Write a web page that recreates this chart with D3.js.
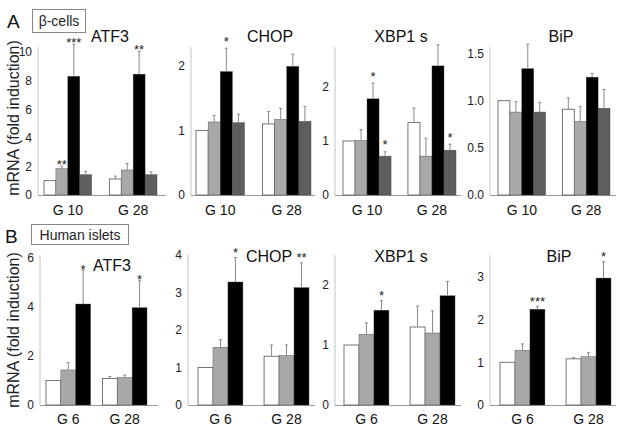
<!DOCTYPE html>
<html><head><meta charset="utf-8">
<script src="https://cdn.jsdelivr.net/npm/d3@7"></script>
<style>body{margin:0;background:#fff}svg{display:block;font-family:"Liberation Sans",Arial,Helvetica,sans-serif}</style>
</head><body><svg id="c" width="629" height="431"></svg>
<script>
// ---------- data ----------
const groupsBeta = ["G 10", "G 28"];
const groupsHuman = ["G 6", "G 28"];
const barColors = ["#ffffff", "#a8a8a8", "#000000", "#5e5e5e"];

// β-cells (4 conditions per group)
const betaATF3 = [[1.0, 1.85, 8.3, 1.42], [1.12, 1.75, 8.45, 1.42]];
const betaATF3Err = [[0, 0.17, 2.25, 0.23], [0.2, 0.45, 1.6, 0.2]];
const betaATF3Star = [["", "**", "***", ""], ["", "", "**", ""]];
const betaATF3Ticks = [0, 2, 4, 6, 8, 10];

const betaCHOP = [[1.0, 1.13, 1.91, 1.12], [1.1, 1.17, 1.99, 1.14]];
const betaCHOPErr = [[0, 0.1, 0.36, 0.13], [0.19, 0.17, 0.19, 0.23]];
const betaCHOPStar = [["", "", "*", ""], ["", "", "", ""]];
const betaCHOPTicks = [0, 1, 2];

const betaXBP1 = [[1.0, 1.01, 1.78, 0.72], [1.34, 0.72, 2.39, 0.83]];
const betaXBP1Err = [[0, 0.2, 0.29, 0.08], [0.27, 0.33, 0.39, 0.11]];
const betaXBP1Star = [["", "", "*", "*"], ["", "", "", "*"]];
const betaXBP1Ticks = [0, 1, 2];

const betaBiP = [[1.0, 0.88, 1.34, 0.88], [0.91, 0.78, 1.25, 0.92]];
const betaBiPErr = [[0, 0.11, 0.26, 0.1], [0.12, 0.16, 0.04, 0.2]];
const betaBiPStar = [["", "", "", ""], ["", "", "", ""]];
const betaBiPTicks = [0, 0.5, 1.0, 1.5];

// Human islets (3 conditions per group)
const humanATF3 = [[1.0, 1.43, 4.12], [1.08, 1.12, 3.97]];
const humanATF3Err = [[0, 0.3, 1.38], [0.08, 0.1, 1.1]];
const humanATF3Star = [["", "", "*"], ["", "", "*"]];
const humanATF3Ticks = [0, 2, 4, 6];

const humanCHOP = [[1.0, 1.54, 3.28], [1.3, 1.32, 3.13]];
const humanCHOPErr = [[0, 0.2, 0.65], [0.3, 0.28, 0.66]];
const humanCHOPStar = [["", "", "*"], ["", "", "**"]];
const humanCHOPTicks = [0, 1, 2, 3, 4];

const humanXBP1 = [[1.0, 1.18, 1.58], [1.3, 1.2, 1.82]];
const humanXBP1Err = [[0, 0.19, 0.16], [0.35, 0.37, 0.24]];
const humanXBP1Star = [["", "", "*"], ["", "", ""]];
const humanXBP1Ticks = [0, 1, 2];

const humanBiP = [[1.0, 1.28, 2.24], [1.08, 1.13, 2.97]];
const humanBiPErr = [[0, 0.15, 0.07], [0.03, 0.1, 0.38]];
const humanBiPStar = [["", "", "***"], ["", "", "*"]];
const humanBiPTicks = [0, 1, 2, 3];

// ---------- layout ----------
const rows = [
  {base: 195, top: 47, xLabelY: 215},
  {base: 405, top: 255, xLabelY: 424}
];
const fInt = d3.format("d"), f1 = d3.format(".1f");
const panels = [
  {row:0, title:"ATF3", groups:groupsBeta, vals:betaATF3, err:betaATF3Err, stars:betaATF3Star, ticks:betaATF3Ticks, fmt:fInt, yMax:10.35, axisX:38, axisEnd:166, range:[44,157], pad:0.27, titleX:110, titleY:42, starGap:5},
  {row:0, title:"CHOP", groups:groupsBeta, vals:betaCHOP, err:betaCHOPErr, stars:betaCHOPStar, ticks:betaCHOPTicks, fmt:fInt, yMax:2.29, axisX:191, axisEnd:315, range:[196,311], pad:0.27, titleX:270, titleY:42, starGap:10},
  {row:0, title:"XBP1 s", groups:groupsBeta, vals:betaXBP1, err:betaXBP1Err, stars:betaXBP1Star, ticks:betaXBP1Ticks, fmt:fInt, yMax:2.74, axisX:335, axisEnd:461, range:[343,456], pad:0.26, titleX:401, titleY:42, starGap:10},
  {row:0, title:"BiP", groups:groupsBeta, vals:betaBiP, err:betaBiPErr, stars:betaBiPStar, ticks:betaBiPTicks, fmt:f1, yMax:1.57, axisX:490, axisEnd:616, range:[498,610], pad:0.26, titleX:561, titleY:42, starGap:10},
  {row:1, title:"ATF3", groups:groupsHuman, vals:humanATF3, err:humanATF3Err, stars:humanATF3Star, ticks:humanATF3Ticks, fmt:fInt, yMax:6.12, axisX:40, axisEnd:158, range:[46,147], pad:0.21, titleX:112, titleY:271, starGap:4},
  {row:1, title:"CHOP", groups:groupsHuman, vals:humanCHOP, err:humanCHOPErr, stars:humanCHOPStar, ticks:humanCHOPTicks, fmt:fInt, yMax:4.0, axisX:188, axisEnd:315, range:[198,309], pad:0.32, titleX:269, titleY:262, starGap:8},
  {row:1, title:"XBP1 s", groups:groupsHuman, vals:humanXBP1, err:humanXBP1Err, stars:humanXBP1Star, ticks:humanXBP1Ticks, fmt:fInt, yMax:2.5, axisX:335, axisEnd:461, range:[344,455], pad:0.32, titleX:401, titleY:262, starGap:8},
  {row:1, title:"BiP", groups:groupsHuman, vals:humanBiP, err:humanBiPErr, stars:humanBiPStar, ticks:humanBiPTicks, fmt:fInt, yMax:3.51, axisX:490, axisEnd:616, range:[500,611], pad:0.32, titleX:559, titleY:262, starGap:8}
];

const svg = d3.select("#c");

panels.forEach(p => {
  const r = rows[p.row];
  const y = d3.scaleLinear().domain([0, p.yMax]).range([r.base, r.top]);
  const x0 = d3.scaleBand().domain(p.groups).range(p.range).paddingInner(p.pad).paddingOuter(0);
  const nSeries = p.vals[0].length;
  const x1 = d3.scaleBand().domain(d3.range(nSeries)).range([0, x0.bandwidth()]);
  const g = svg.append("g");

  // axis lines
  g.append("line").attr("x1", p.axisX).attr("x2", p.axisX).attr("y1", r.base).attr("y2", r.top)
    .attr("stroke", "#c4c4c4").attr("stroke-width", 1);
  g.append("line").attr("x1", p.axisX).attr("x2", p.axisEnd).attr("y1", r.base + 0.5).attr("y2", r.base + 0.5)
    .attr("stroke", "#9a9a9a").attr("stroke-width", 1);

  // y tick labels via d3 axis (no tick marks / domain)
  const ax = g.append("g").attr("transform", `translate(${p.axisX},0)`)
    .call(d3.axisLeft(y).tickValues(p.ticks).tickFormat(p.fmt).tickSize(0).tickPadding(6));
  ax.select(".domain").remove();
  ax.selectAll("text").attr("font-size", 12).attr("fill", "#222").attr("font-family", '"Liberation Sans",Arial,sans-serif');

  // bars
  p.groups.forEach((grp, gi) => {
    const gx = x0(grp);
    p.vals[gi].forEach((v, si) => {
      const bx = gx + x1(si), bw = x1.bandwidth();
      g.append("rect").attr("x", bx).attr("y", y(v)).attr("width", bw).attr("height", y(0) - y(v))
        .attr("fill", barColors[si]).attr("stroke", si === 0 ? "#555" : "#444").attr("stroke-width", si === 0 ? 0.8 : 0.4);
      const e = p.err[gi][si];
      const cx = bx + bw / 2;
      if (e > 0) {
        g.append("line").attr("x1", cx).attr("x2", cx).attr("y1", y(v)).attr("y2", y(v + e))
          .attr("stroke", "#8a8a8a").attr("stroke-width", 1);
        g.append("line").attr("x1", cx - 1.5).attr("x2", cx + 1.5).attr("y1", y(v + e)).attr("y2", y(v + e))
          .attr("stroke", "#8a8a8a").attr("stroke-width", 1);
      }
      const s = p.stars[gi][si];
      if (s) {
        const cy = y(v + e) - p.starGap;
        g.append("text").attr("x", cx).attr("y", cy + 7.5).attr("text-anchor", "middle")
          .attr("font-size", 13).attr("fill", "#222").text(s);
      }
    });
    // x label
    g.append("text").attr("x", gx + x0.bandwidth() / 2).attr("y", r.xLabelY).attr("text-anchor", "middle")
      .attr("font-size", 14).attr("fill", "#111").text(grp);
  });

  // title
  g.append("text").attr("x", p.titleX).attr("y", p.titleY).attr("text-anchor", "middle")
    .attr("font-size", 16).attr("fill", "#111").text(p.title);
});

// row labels and boxes
const rowLabels = ["A", "B"];
const boxTexts = ["β-cells", "Human islets"];
const yTitle = "mRNA (fold induction)";
const labelPos = [{lx: 7, ly: 28, bx: 32, by: 9, bw: 53, bh: 23, ty: 118}, {lx: 5, ly: 243, bx: 31, by: 224, bw: 97, bh: 20, ty: 330}];
rowLabels.forEach((L, i) => {
  const lp = labelPos[i];
  svg.append("text").attr("x", lp.lx).attr("y", lp.ly).attr("font-size", 19).attr("fill", "#111").text(L);
  svg.append("rect").attr("x", lp.bx + 0.5).attr("y", lp.by + 0.5).attr("width", lp.bw).attr("height", lp.bh)
    .attr("fill", "#fff").attr("stroke", "#888").attr("stroke-width", 1);
  svg.append("text").attr("x", lp.bx + lp.bw / 2 + 0.5).attr("y", lp.by + lp.bh / 2 + 5.5).attr("text-anchor", "middle")
    .attr("font-size", 14).attr("fill", "#222").text(boxTexts[i]);
  svg.append("text").attr("transform", `translate(19,${lp.ty}) rotate(-90)`).attr("text-anchor", "middle")
    .attr("font-size", 16).attr("fill", "#222").text(yTitle);
});
</script></body></html>
